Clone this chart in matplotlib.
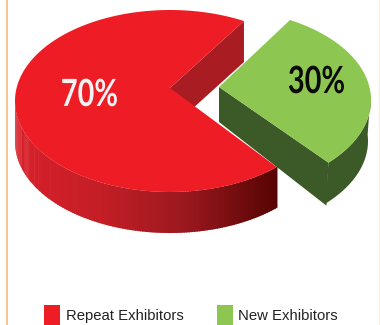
import numpy as np
import matplotlib
matplotlib.use("Agg")
import matplotlib.pyplot as plt
from matplotlib.colors import LinearSegmentedColormap
from matplotlib.patches import Polygon, Rectangle
from matplotlib.patheffects import AbstractPathEffect
from matplotlib.transforms import Affine2D

categories = ["Repeat Exhibitors", "New Exhibitors"]
shares = [70, 30]
value_labels = ["70%", "30%"]
face_colors = ["#ee1c25", "#8dc751"]

START = 61.5
CX, CY, RX, RY = 170, 101, 155, 91
APEX = (170, 88)
OFFSET = (46, -1)
GREEN_APEX = (219, 87)
TIP_TRIM = 3
DEPTH = 41


class Squeeze(AbstractPathEffect):
    """Narrow a text horizontally about a display x position."""

    def __init__(self, cx, k):
        super().__init__()
        self.cx, self.k = cx, k

    def draw_path(self, renderer, gc, tpath, affine, rgbFace=None):
        a = affine + Affine2D().translate(-self.cx, 0).scale(self.k, 1).translate(self.cx, 0)
        renderer.draw_path(gc, tpath, a, rgbFace)


fig = plt.figure(figsize=(3.8, 3.25), dpi=100, facecolor="white")
ax = fig.add_axes([0, 0, 1, 1])
ax.set_xlim(0, 380)
ax.set_ylim(325, 0)
ax.axis("off")


def rim(t, dx=0, dy=0):
    r = np.radians(t)
    return np.column_stack([CX + RX * np.cos(r) + dx, CY - RY * np.sin(r) + dy])


sweeps = [v / sum(shares) * 360 for v in shares]
red_a, red_b = START, START + sweeps[0]
green_a, green_b = START - sweeps[1] + TIP_TRIM, START

# red inner wall
p = rim(red_a)[0]
ax.add_patch(Polygon([APEX, p, p + [0, DEPTH], (APEX[0], APEX[1] + DEPTH)], fc="#a81c22", ec="none", zorder=1))

# green side walls and top
gap = np.array(GREEN_APEX, dtype=float)
q = rim(green_a, *OFFSET)[0]
ax.add_patch(Polygon([gap, q, q + [-2, DEPTH + 2], gap + [0, 35]], fc="#3c5a28", ec="none", zorder=2))
ts = np.linspace(green_a, 4, 60)
top = rim(ts, *OFFSET)
ax.add_patch(Polygon(np.vstack([top, (top + [-3, DEPTH])[::-1]]), fc="#3c5a28", ec="none", zorder=2))
ts = np.linspace(green_a, green_b, 120)
ax.add_patch(Polygon(np.vstack([[gap], rim(ts, *OFFSET)]), fc=face_colors[1], ec="none", zorder=3))

# red outer wall with gradient
cmap = LinearSegmentedColormap.from_list("w", ["#d8202a", "#c41e26", "#9a181e", "#5a0505"])
edges = np.linspace(180, red_b, 140)
for a, b in zip(edges[:-1], edges[1:]):
    seg = rim(np.array([a, b + 0.4]))
    x_mid = seg[:, 0].mean()
    ax.add_patch(Polygon(np.vstack([seg, (seg + [0, DEPTH])[::-1]]),
                         fc=cmap((x_mid - 15) / (273 - 15)), ec="none", zorder=4))

# red top face
ts = np.linspace(red_a, red_b, 300)
ax.add_patch(Polygon(np.vstack([[APEX], rim(ts)]), fc=face_colors[0], ec="none", zorder=5))

# value labels
for x, y, lab, c in zip([89.5, 316.5], [95, 82], value_labels, ["#f2f2f2", "#0a0a0a"]):
    t = ax.text(x, y, lab, color=c, fontsize=27, family="Lato", weight="bold",
                ha="center", va="center", zorder=6)
    t.set_path_effects([Squeeze(x, 0.77)])

# legend
for x, tx, c, lab in zip([44, 217], [66, 238], face_colors, categories):
    ax.add_patch(Rectangle((x, 305), 16, 20, fc=c, ec="none", zorder=6))
    ax.text(tx, 316, lab, color="#222222", fontsize=10.7, family="Liberation Sans", ha="left", va="center", zorder=6)

# frame
ax.add_patch(Rectangle((6, 0), 2, 325, fc="#fcc490", ec="none", zorder=7))
ax.add_patch(Rectangle((378.5, 0), 1.5, 325, fc="#fde8d4", ec="none", zorder=7))

fig.savefig("out.png", dpi=100)
